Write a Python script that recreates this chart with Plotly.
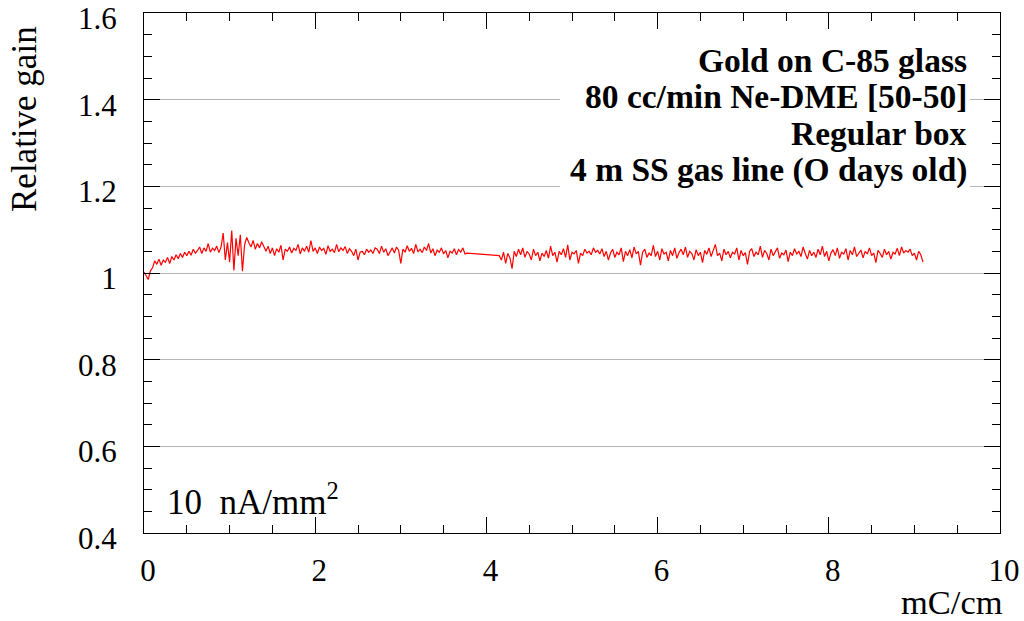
import numpy as np
import plotly.graph_objects as go

# ---------------- data ----------------
# segment A: accumulated charge 0 -> 3.775 mC/cm, sampled every 0.025
seg_a_start, seg_a_end = 0.0, 3.775
gain_a = [
    1.002, 0.995, 0.985, 1.005, 1.012,
    1.028, 1.020, 1.032, 1.018, 1.030, 1.025, 1.036, 1.022, 1.038, 1.030,
    1.042, 1.033, 1.045, 1.036, 1.048, 1.040, 1.050, 1.041,
    1.055, 1.046, 1.052, 1.060, 1.045, 1.058, 1.050, 1.068, 1.048, 1.057, 1.052, 1.062, 1.047, 1.060,
    1.092, 1.030, 1.070, 1.025, 1.098, 1.006, 1.080, 1.040, 1.088, 1.004, 1.065, 1.082,
    1.070, 1.060, 1.075, 1.055, 1.068, 1.058, 1.072, 1.062,
    1.050, 1.062, 1.045, 1.058, 1.040, 1.056, 1.048, 1.064, 1.030, 1.055,
    1.050, 1.060, 1.046, 1.057, 1.052, 1.066, 1.044, 1.058, 1.050, 1.062,
    1.048, 1.075, 1.050, 1.058, 1.045, 1.060, 1.052, 1.057, 1.043, 1.063,
    1.050, 1.055, 1.047, 1.066, 1.049, 1.058, 1.052, 1.061, 1.045, 1.056,
    1.050, 1.040, 1.055, 1.030, 1.048, 1.050, 1.042, 1.055, 1.048, 1.053, 1.045, 1.058,
    1.055, 1.045, 1.062, 1.048, 1.056, 1.040, 1.050, 1.058, 1.046, 1.060,
    1.052, 1.022, 1.055, 1.048, 1.063, 1.050, 1.057, 1.045, 1.066, 1.049,
    1.055, 1.047, 1.060, 1.052, 1.068, 1.046, 1.056, 1.040, 1.053, 1.048,
    1.058, 1.044, 1.052, 1.035, 1.050, 1.046, 1.056, 1.042, 1.054, 1.048, 1.058, 1.044, 1.046,
]
# segment B: accumulated charge 4.15 -> 9.10 mC/cm, sampled every 0.025
seg_b_start, seg_b_end = 4.15, 9.10
gain_b = [
    1.040, 1.030, 1.048, 1.022, 1.045, 1.035, 1.010, 1.050, 1.038, 1.055,
    1.042, 1.058, 1.036, 1.050, 1.044, 1.030, 1.055, 1.040, 1.048, 1.028,
    1.046, 1.038, 1.052, 1.034, 1.062, 1.040, 1.048, 1.025, 1.050, 1.042,
    1.056, 1.036, 1.065, 1.030, 1.048, 1.044, 1.052, 1.022, 1.046, 1.040,
    1.055, 1.046, 1.050, 1.042, 1.058, 1.048, 1.052, 1.044, 1.056, 1.038,
    1.050, 1.030, 1.046, 1.055, 1.036, 1.048, 1.042, 1.058, 1.026, 1.050,
    1.040, 1.054, 1.035, 1.060, 1.044, 1.050, 1.018, 1.048, 1.055, 1.036,
    1.046, 1.040, 1.064, 1.038, 1.050, 1.030, 1.056, 1.044, 1.048, 1.028,
    1.052, 1.040, 1.058, 1.034, 1.047, 1.055, 1.042, 1.060, 1.036, 1.050,
    1.045, 1.030, 1.054, 1.040, 1.048, 1.024, 1.052, 1.043, 1.058, 1.038,
    1.050, 1.066, 1.040, 1.046, 1.028, 1.055, 1.042, 1.050, 1.035, 1.048,
    1.044, 1.058, 1.030, 1.052, 1.040, 1.047, 1.020, 1.050, 1.056, 1.038,
    1.048, 1.042, 1.062, 1.036, 1.052, 1.045, 1.030, 1.055, 1.040, 1.050,
    1.058, 1.034, 1.046, 1.042, 1.053, 1.026, 1.048, 1.040, 1.056, 1.044,
    1.050, 1.038, 1.060, 1.045, 1.032, 1.052, 1.040, 1.048, 1.036, 1.055,
    1.042, 1.062, 1.038, 1.050, 1.028, 1.046, 1.054, 1.040, 1.058, 1.034,
    1.048, 1.044, 1.056, 1.030, 1.052, 1.042, 1.060, 1.038, 1.047, 1.053,
    1.035, 1.050, 1.044, 1.058, 1.040, 1.046, 1.024, 1.052, 1.045, 1.036,
    1.055, 1.042, 1.050, 1.032, 1.048, 1.044, 1.057, 1.040, 1.060, 1.046,
    1.052, 1.048, 1.055, 1.040, 1.046, 1.030, 1.050, 1.042, 1.025,
]

x_title = "mC/cm"
y_title = "Relative gain"
info_lines = [
    "Gold on C-85 glass",
    "80 cc/min Ne-DME [50-50]",
    "Regular box",
    "4 m SS gas line (O days old)",
]
current_label = "10  nA/mm<sup>2</sup>"
x_tickvals = [0, 2, 4, 6, 8, 10]
x_ticktext = ["0", "2", "4", "6", "8", "10"]
y_tickvals = [0.4, 0.6, 0.8, 1.0, 1.2, 1.4, 1.6]
y_ticktext = ["0.4", "0.6", "0.8", "1", "1.2", "1.4", "1.6"]
x_range = [0, 10]
y_range = [0.4, 1.6]

# ---------------- figure ----------------
x_a = np.linspace(seg_a_start, seg_a_end, len(gain_a))
x_b = np.linspace(seg_b_start, seg_b_end, len(gain_b))
x_all = np.concatenate([x_a, x_b])
y_all = np.array(gain_a + gain_b)

W, H = 1024, 621
L, R, T, B = 144, 24, 13, 88
pw, ph = W - L - R, H - T - B

def px(xp):
    return (xp - L) / pw

def py(yp):
    return (H - B - yp) / ph

FONT = "Liberation Serif"

fig = go.Figure()
fig.add_trace(go.Scatter(x=x_all, y=y_all, mode="lines",
                         line=dict(color="#ff0000", width=1.2),
                         hoverinfo="skip", showlegend=False))

fig.update_layout(
    width=W, height=H,
    margin=dict(l=L, r=R, t=T, b=B, autoexpand=False),
    paper_bgcolor="white", plot_bgcolor="white",
    font=dict(family=FONT, color="black", size=30),
    showlegend=False,
)
fig.update_xaxes(
    range=x_range, tickmode="array", tickvals=x_tickvals, ticktext=x_ticktext,
    showgrid=False, zeroline=False, automargin=False,
    showline=True, linecolor="black", linewidth=1, mirror="allticks",
    ticks="inside", ticklen=16, tickcolor="black", tickwidth=1,
    ticklabelstandoff=10, ticklabelshift=4, ticklabeloverflow="allow",
    tickfont=dict(family=FONT, size=31),
    minor=dict(ticks="inside", ticklen=8, dtick=0.5, tick0=0, tickcolor="black", showgrid=False),
)
fig.update_yaxes(
    range=y_range, tickmode="array", tickvals=y_tickvals, ticktext=y_ticktext,
    showgrid=True, gridcolor="#b4b4b4", gridwidth=1, zeroline=False, automargin=False,
    showline=True, linecolor="black", linewidth=1, mirror="allticks",
    ticks="inside", ticklen=16, tickcolor="black", tickwidth=1,
    ticklabelstandoff=20, ticklabelshift=5, ticklabeloverflow="allow",
    tickfont=dict(family=FONT, size=31),
    minor=dict(ticks="inside", ticklen=8, dtick=0.05, tick0=0.4, tickcolor="black", showgrid=False),
)

# white pave behind the info text
fig.add_shape(type="rect", xref="paper", yref="paper",
              x0=px(560), x1=px(970), y0=py(195), y1=py(40),
              fillcolor="white", line=dict(width=0), layer="above")

baselines = [71, 107.7, 144.4, 181]
for line, bl in zip(info_lines, baselines):
    fig.add_annotation(text="<b>%s</b>" % line, xref="paper", yref="paper",
                       x=px(969), y=py(bl - 11), xanchor="right", yanchor="middle",
                       showarrow=False, font=dict(family=FONT, size=33.5, color="black"))

fig.add_annotation(text=current_label, xref="paper", yref="paper",
                   x=px(165), y=py(499), xanchor="left", yanchor="middle",
                   showarrow=False, font=dict(family=FONT, size=35, color="black"))

fig.add_annotation(text=x_title, xref="paper", yref="paper",
                   x=px(1005), y=py(602), xanchor="right", yanchor="middle",
                   showarrow=False, font=dict(family=FONT, size=34.5, color="black"))

fig.add_annotation(text=y_title, xref="paper", yref="paper",
                   x=px(24), y=py(24), xanchor="center", yanchor="top",
                   textangle=-90,
                   showarrow=False, font=dict(family=FONT, size=35, color="black"))

fig.write_html("out.html")
